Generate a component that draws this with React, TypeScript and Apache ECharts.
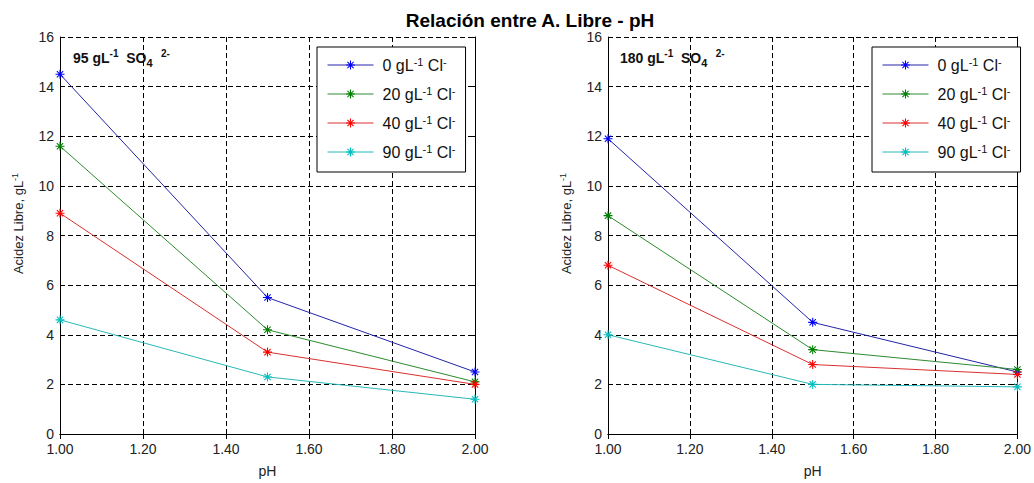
import React, { useEffect, useRef } from "react";
import * as echarts from "echarts";

const titleText = "Relación entre A. Libre - pH";
const panelLabels = ["95 gL⁻¹ SO₄ ²⁻", "180 gL⁻¹ SO₄ ²⁻"];
const panelLabelsRich = [
  "{n|95 gL}{s|-1}{n|  SO}{b|4}{t|   2-}",
  "{n|180 gL}{s|-1}{n|  SO}{b|4}{t|   2-}",
];
const xName = "pH";
const yNameRich = "{n|Acidez Libre, gL}{s|-1}";
const phValues = [1.0, 1.5, 2.0];
const seriesNames = ["0 gL⁻¹ Cl⁻", "20 gL⁻¹ Cl⁻", "40 gL⁻¹ Cl⁻", "90 gL⁻¹ Cl⁻"];
const seriesNamesRich = [
  "{n|0 gL}{s|-1}{n| Cl}{s|-}",
  "{n|20 gL}{s|-1}{n| Cl}{s|-}",
  "{n|40 gL}{s|-1}{n| Cl}{s|-}",
  "{n|90 gL}{s|-1}{n| Cl}{s|-}",
];
const lineColors = ["#2424a8", "#2e8a2e", "#d83030", "#28b8b8"];
const markerColors = ["#0000ff", "#008000", "#ff0000", "#00bfbf"];

// 95 g/L SO4
const so95_cl0 = [14.5, 5.5, 2.5];
const so95_cl20 = [11.6, 4.2, 2.1];
const so95_cl40 = [8.9, 3.3, 2.0];
const so95_cl90 = [4.6, 2.3, 1.4];
// 180 g/L SO4
const so180_cl0 = [11.9, 4.5, 2.5];
const so180_cl20 = [8.8, 3.4, 2.6];
const so180_cl40 = [6.8, 2.8, 2.4];
const so180_cl90 = [4.0, 2.0, 1.9];

const panels = [
  [so95_cl0, so95_cl20, so95_cl40, so95_cl90],
  [so180_cl0, so180_cl20, so180_cl40, so180_cl90],
];

// filled asterisk (plus + x), all sub-shapes with same winding
const asterisk =
  "path://M4.4 0 L5.6 0 L5.6 10 L4.4 10 Z " +
  "M0 4.4 L10 4.4 L10 5.6 L0 5.6 Z " +
  "M1.08 1.92 L1.92 1.08 L8.92 8.08 L8.08 8.92 Z " +
  "M1.08 8.08 L8.08 1.08 L8.92 1.92 L1.92 8.92 Z";

const FONT = "'Liberation Sans', Arial, sans-serif";

export default function App() {
  const ref = useRef<HTMLDivElement>(null);
  useEffect(() => {
    document.body.style.margin = "0";
    if (!ref.current) return;
    const chart = echarts.init(ref.current, null, { renderer: "svg" });

    const grids = [
      { left: 60, top: 37, width: 415, height: 403 },
      { left: 608, top: 37, width: 418, height: 403 },
    ];

    const frameAxis = (g: number, position: string, isX: boolean) => ({
      gridIndex: g,
      type: "value",
      position,
      min: isX ? 1 : 0,
      max: isX ? 2 : 16,
      interval: isX ? 0.2 : 2,
      axisLine: { show: true, lineStyle: { color: "#000", width: 1 } },
      axisTick: { show: true, inside: true, length: 5, lineStyle: { color: "#000" } },
      axisLabel: { show: false },
      splitLine: { show: false },
    });

    const xAxes: any[] = [];
    const yAxes: any[] = [];
    grids.forEach((_, g) => {
      xAxes.push({
        gridIndex: g,
        type: "value",
        position: "bottom",
        min: 1,
        max: 2,
        interval: 0.2,
        name: xName,
        nameLocation: "middle",
        nameGap: 30,
        nameTextStyle: { fontSize: 14, color: "#222", fontFamily: FONT },
        axisLine: { show: true, lineStyle: { color: "#000", width: 1 } },
        axisTick: { show: true, inside: true, length: 5, lineStyle: { color: "#000" } },
        axisLabel: {
          fontSize: 14,
          color: "#222",
          margin: 8,
          fontFamily: FONT,
          formatter: (v: number) => v.toFixed(2),
        },
        splitLine: { show: true, lineStyle: { color: "#000", type: [5, 3], width: 1 } },
      });
      xAxes.push(frameAxis(g, "top", true));
      yAxes.push({
        gridIndex: g,
        type: "value",
        position: "left",
        min: 0,
        max: 16,
        interval: 2,
        name: yNameRich,
        nameLocation: "middle",
        nameGap: 34,
        nameTextStyle: {
          color: "#222",
          fontFamily: FONT,
          padding: [0, 0, 0, 24],
          rich: {
            n: { fontSize: 13, color: "#222", fontFamily: FONT, lineHeight: 16 },
            s: { fontSize: 9, color: "#222", fontFamily: FONT, verticalAlign: "top", lineHeight: 9 },
          },
        },
        axisLine: { show: true, lineStyle: { color: "#000", width: 1 } },
        axisTick: { show: true, inside: true, length: 5, lineStyle: { color: "#000" } },
        axisLabel: { fontSize: 14, color: "#222", margin: 6, fontFamily: FONT },
        splitLine: { show: true, lineStyle: { color: "#000", type: [5, 3], width: 1 } },
      });
      yAxes.push(frameAxis(g, "right", false));
    });

    const series: any[] = [];
    panels.forEach((panel, g) => {
      panel.forEach((vals, i) => {
        series.push({
          type: "line",
          name: seriesNames[i],
          xAxisIndex: g * 2,
          yAxisIndex: g * 2,
          data: phValues.map((x, k) => [x, vals[k]]),
          symbol: asterisk,
          symbolSize: 9,
          showSymbol: true,
          lineStyle: { color: lineColors[i], width: 1 },
          itemStyle: { color: markerColors[i], borderWidth: 0 },
          emphasis: { disabled: true },
          z: 3,
        });
      });
    });

    const legendBase = {
      orient: "vertical",
      top: 47,
      data: seriesNames,
      itemWidth: 46,
      itemHeight: 11,
      itemGap: 12,
      padding: [9, 10, 12, 10],
      backgroundColor: "#fff",
      borderColor: "#000",
      borderWidth: 1,
      borderRadius: 0,
      selectedMode: false,
      itemStyle: { borderWidth: 0 },
      lineStyle: { width: 1 },
      formatter: (name: string) => seriesNamesRich[seriesNames.indexOf(name)],
      textStyle: {
        color: "#111",
        fontSize: 16,
        fontFamily: FONT,
        padding: [0, 0, 0, 4],
        rich: {
          n: { fontSize: 16, color: "#111", fontFamily: FONT, lineHeight: 18 },
          s: { fontSize: 11, color: "#111", fontFamily: FONT, verticalAlign: "top", lineHeight: 11 },
        },
      },
    };

    const panelRich = {
      n: { fontSize: 14, fontWeight: "bold", color: "#111", fontFamily: FONT, lineHeight: 20 },
      s: { fontSize: 10, fontWeight: "bold", color: "#111", fontFamily: FONT, verticalAlign: "top", lineHeight: 10 },
      t: { fontSize: 10, fontWeight: "bold", color: "#111", fontFamily: FONT, verticalAlign: "top", lineHeight: 8 },
      b: { fontSize: 11, fontWeight: "bold", color: "#111", fontFamily: FONT, verticalAlign: "bottom", lineHeight: 11 },
    };

    chart.setOption({
      animation: false,
      textStyle: { fontFamily: FONT },
      title: [
        {
          text: titleText,
          left: 530,
          top: 11,
          textAlign: "center",
          padding: 0,
          textStyle: { fontSize: 19, fontWeight: "bold", color: "#000", fontFamily: FONT },
        },
        {
          text: panelLabelsRich[0],
          left: 73,
          top: 48,
          padding: 0,
          textStyle: { rich: panelRich },
        },
        {
          text: panelLabelsRich[1],
          left: 620,
          top: 48,
          padding: 0,
          textStyle: { rich: panelRich },
        },
      ],
      legend: [
        { ...legendBase, left: 317 },
        { ...legendBase, left: 872 },
      ],
      grid: grids,
      xAxis: xAxes,
      yAxis: yAxes,
      series,
    });

    return () => chart.dispose();
  }, []);

  return (
    <div
      ref={ref}
      style={{ width: 1034, height: 483 }}
      aria-label={panelLabels.join(" / ")}
    />
  );
}
